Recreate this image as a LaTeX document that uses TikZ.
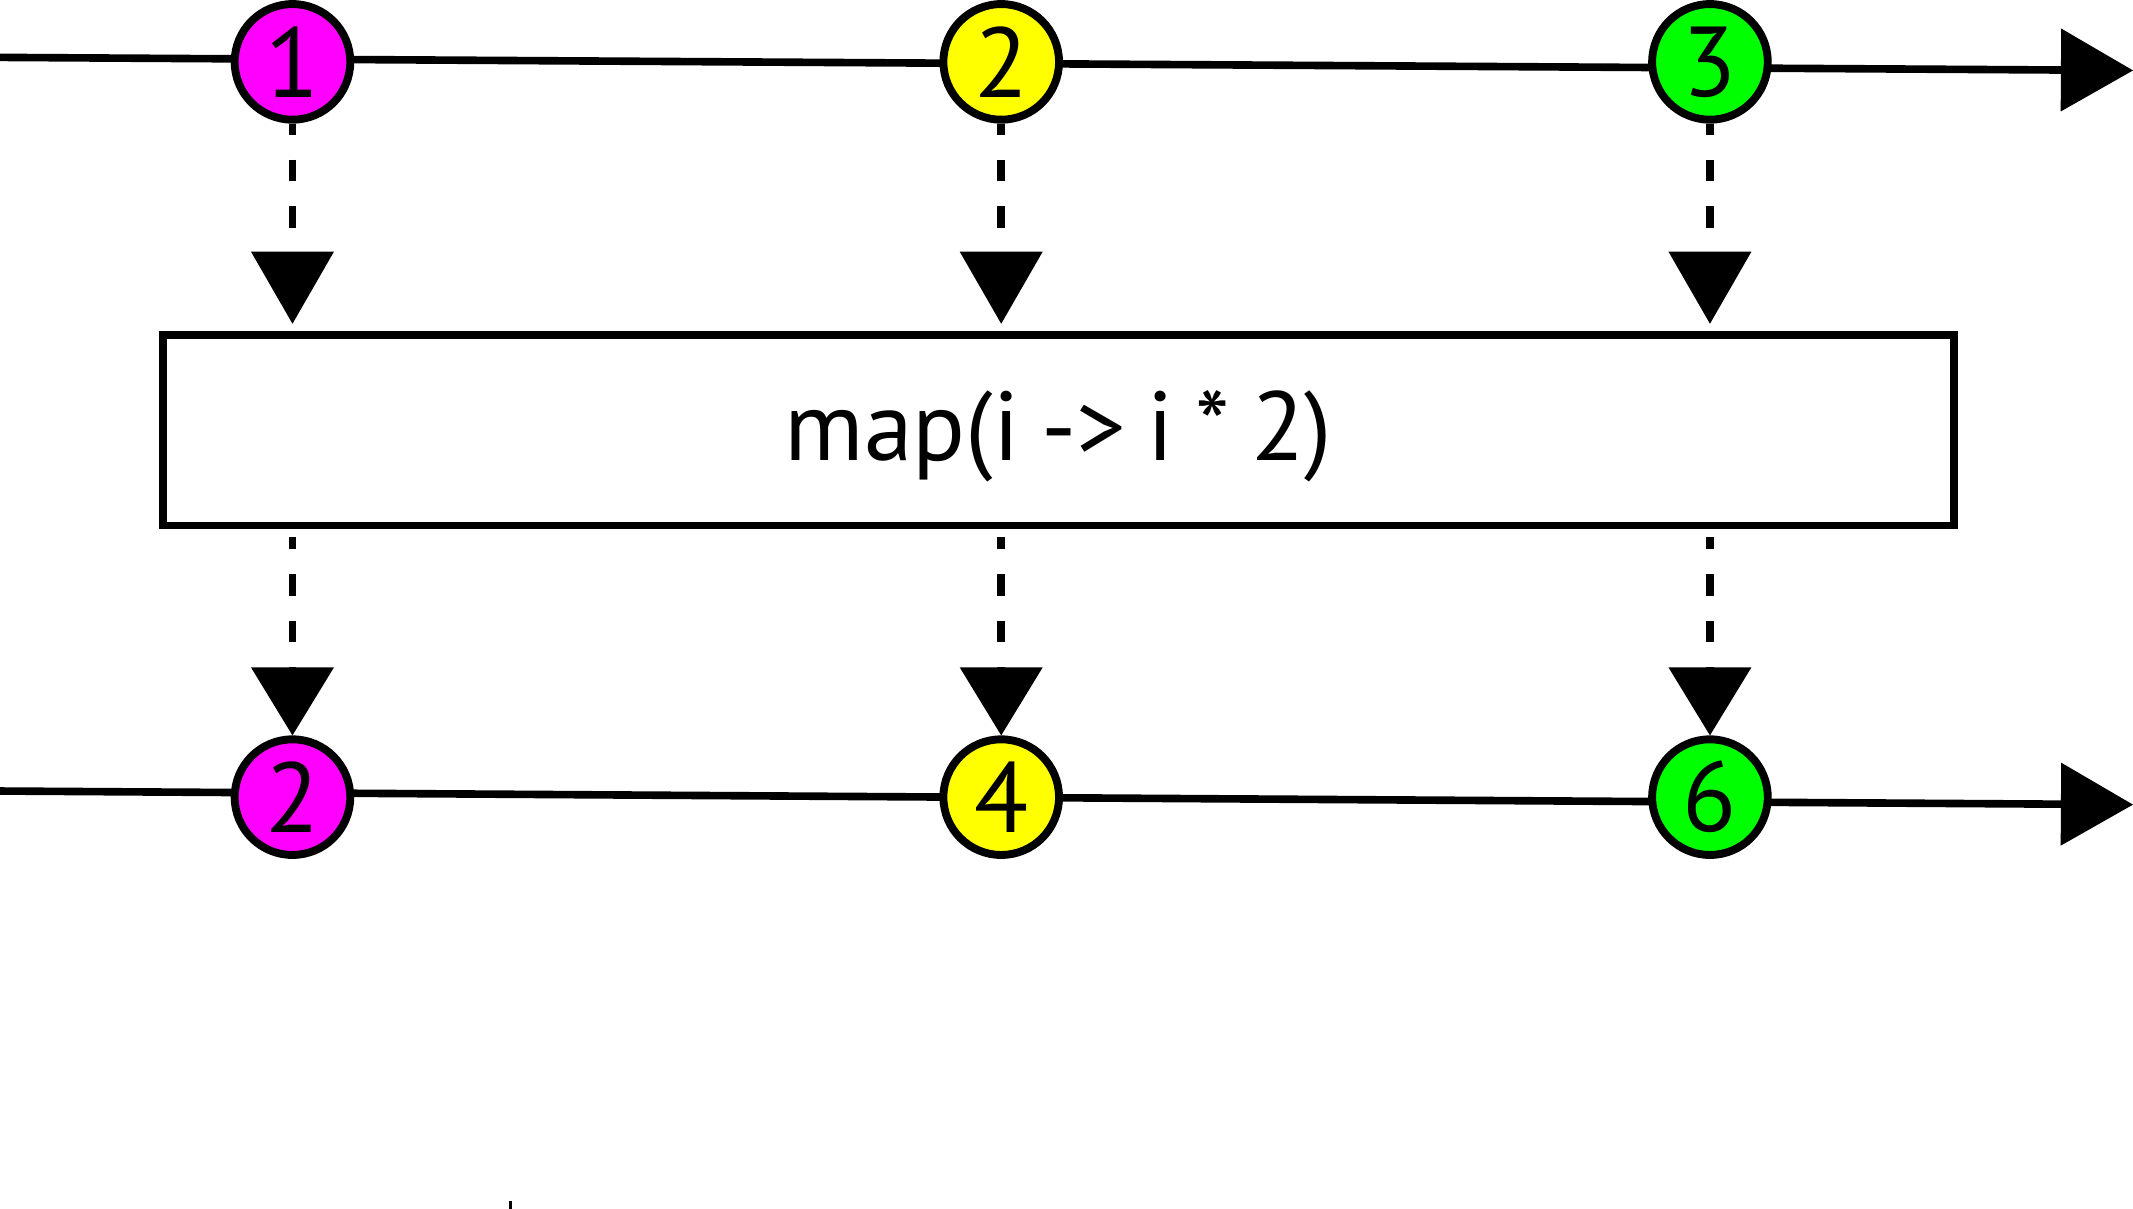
\documentclass[tikz,border=0pt]{standalone}
\usepackage{fontspec}
\setmainfont{PT Sans}
\usetikzlibrary{arrows.meta}
\definecolor{cmag}{RGB}{255,0,255}
\definecolor{cyel}{RGB}{255,255,0}
\definecolor{cgrn}{RGB}{0,255,0}
\begin{document}
\begin{tikzpicture}[x=0.5pt,y=-0.5pt,
  marble/.style={circle,draw=black,line width=2.9pt,minimum size=42.5pt,inner sep=0pt,
    font=\fontsize{36.5}{36.5}\selectfont},
  opbox/.style={draw=black,line width=2.8pt,minimum width=658.2pt,minimum height=69.95pt,
    inner sep=0pt,font=\fontsize{36}{36}\selectfont,text height=27.25pt,text depth=5pt},
  timeline/.style={line width=2.8pt,-{Triangle[length=26.5pt,width=30.5pt,line width=0pt]}},
  flowa/.style={line width=2.8pt,dash pattern=on 8pt off 9.1pt,
    -{Triangle[length=26.5pt,width=30.5pt,line width=0pt]}},
  flowb/.style={line width=2.8pt,dash pattern=on 8pt off 9.1pt,
    -{Triangle[length=25pt,width=30.5pt,line width=0pt]}}]
\useasboundingbox (0,0) rectangle (1568,888.75);
% timelines
\coordinate (t0) at (0,42.2);
\coordinate (t1) at (1568,51.8);
\coordinate (b0) at (0,581.5);
\coordinate (b1) at (1568,591.5);
\draw[timeline] (t0) -- (t1);
\draw[timeline] (b0) -- (b1);
% marbles
\node[marble,fill=cmag] (i1) at (215,45.5) {1};
\node[marble,fill=cyel] (i2) at (736,45.5) {2};
\node[marble,fill=cgrn] (i3) at (1257,45.5) {3};
\node[opbox] (op) at (778,316.25) {map(i\hspace{0.22em}->\hspace{0.22em}i\hspace{0.22em}*\hspace{0.22em}2)};
\node[marble,fill=cmag] (o1) at (215,586) {2};
\node[marble,fill=cyel] (o2) at (736,586) {4};
\node[marble,fill=cgrn] (o3) at (1257,586) {6};
% flows into operator
\foreach \n in {i1,i2,i3}
  \draw[flowa,dash phase=3.9pt,shorten >=2.75pt] (\n.south) -- (\n.south |- op.north);
\foreach \n in {o1,o2,o3}
  \draw[flowb,dash phase=3.4pt,shorten <=2.8pt] (\n.north |- op.south) -- (\n.north);
% small tick at bottom
\coordinate (k0) at (375.4,883);
\coordinate (k1) at (375.4,888.75);
\draw[line width=1pt] (k0) -- (k1);
\end{tikzpicture}
\end{document}
